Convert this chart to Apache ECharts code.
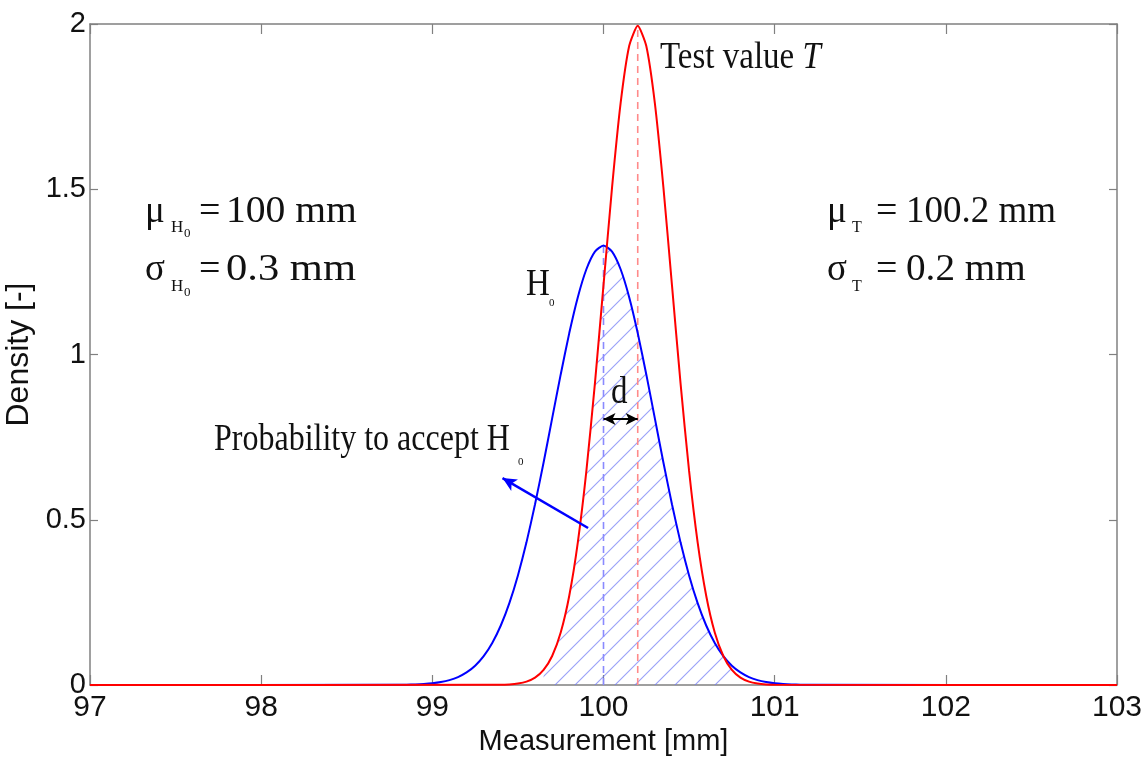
<!DOCTYPE html>
<html><head><meta charset="utf-8">
<script src="https://cdn.jsdelivr.net/npm/echarts@6/dist/echarts.min.js"></script>
<style>html,body{margin:0;padding:0;background:#fff}#c{width:1141px;height:763px}</style>
</head><body><div id="c"></div>
<script>
// H0 distribution (blue)
const xH0 = [97, 98.8, 98.85, 98.9, 98.95, 99.0, 99.05, 99.1, 99.15, 99.2, 99.25, 99.3, 99.35, 99.4, 99.45, 99.5, 99.55, 99.6, 99.65, 99.7, 99.75, 99.8, 99.85, 99.9, 99.95, 100.0, 100.05, 100.1, 100.15, 100.2, 100.25, 100.3, 100.35, 100.4, 100.45, 100.5, 100.55, 100.6, 100.65, 100.7, 100.75, 100.8, 100.85, 100.9, 100.95, 101.0, 101.05, 101.1, 101.15, 101.2, 103];
const yH0 = [0, 0.0004, 0.0009, 0.0016, 0.0029, 0.0051, 0.0088, 0.0148, 0.0240, 0.0380, 0.0584, 0.0874, 0.1272, 0.1800, 0.2476, 0.3316, 0.4316, 0.5467, 0.6733, 0.8066, 0.9397, 1.0648, 1.1735, 1.2580, 1.3115, 1.3298, 1.3115, 1.2580, 1.1735, 1.0648, 0.9397, 0.8066, 0.6733, 0.5467, 0.4316, 0.3316, 0.2476, 0.1800, 0.1272, 0.0874, 0.0584, 0.0380, 0.0240, 0.0148, 0.0088, 0.0051, 0.0029, 0.0016, 0.0009, 0.0004, 0];
// Test value distribution (red)
const xT = [97, 99.4, 99.45, 99.5, 99.55, 99.6, 99.65, 99.7, 99.75, 99.8, 99.85, 99.9, 99.95, 100.0, 100.05, 100.1, 100.15, 100.2, 100.25, 100.3, 100.35, 100.4, 100.45, 100.5, 100.55, 100.6, 100.65, 100.7, 100.75, 100.8, 100.85, 100.9, 100.95, 101.0, 103];
const yT = [0, 0.0007, 0.0018, 0.0044, 0.0102, 0.0222, 0.0455, 0.0877, 0.1587, 0.2700, 0.4315, 0.6476, 0.9132, 1.2099, 1.5057, 1.7603, 1.9333, 1.9947, 1.9333, 1.7603, 1.5057, 1.2099, 0.9132, 0.6476, 0.4315, 0.2700, 0.1587, 0.0877, 0.0455, 0.0222, 0.0102, 0.0044, 0.0018, 0.0007, 0];
// hatched overlap region
const xHatch = [99.65, 99.7, 99.75, 99.8, 99.85, 99.9, 99.95, 100.0, 100.02, 100.05, 100.1, 100.15, 100.2, 100.25, 100.3, 100.35, 100.4, 100.45, 100.5, 100.55, 100.6, 100.65, 100.7, 100.75];
const yHatch = [0.0455, 0.0877, 0.1587, 0.2700, 0.4315, 0.6476, 0.9132, 1.2099, 1.328, 1.3115, 1.2580, 1.1735, 1.0648, 0.9397, 0.8066, 0.6733, 0.5467, 0.4316, 0.3316, 0.2476, 0.1800, 0.1272, 0.0874, 0.0455];
// reference lines and arrows
const meanH0Line = [[100, 0], [100, 1.3298]];
const meanTLine = [[100.2, 0], [100.2, 1.9947]];
const dArrow = [[100, 0.805], [100.2, 0.805]];
const acceptArrow = [[99.91, 0.475], [99.41, 0.626]];

const zip = (xs, ys) => xs.map((x, i) => [x, ys[i]]);

function hatchCanvas() {
  const s = 20, c = document.createElement('canvas');
  c.width = s; c.height = s;
  const g = c.getContext('2d');
  g.strokeStyle = 'rgba(110,120,245,0.7)';
  g.lineWidth = 1.1;
  g.beginPath();
  g.moveTo(0, s); g.lineTo(s, 0);
  g.moveTo(-3, 3); g.lineTo(3, -3);
  g.moveTo(s - 3, s + 3); g.lineTo(s + 3, s - 3);
  g.stroke();
  return c;
}

const SERIF = 'Liberation Serif';
const SANS = 'Liberation Sans';
function txt(x, y, text, size, extra, align) {
  return Object.assign({ type: 'text', x: x, y: y, z: 100,
    style: { text: text, font: size + 'px "' + SERIF + '"', fill: '#111', verticalAlign: 'middle', align: align || 'left' } }, extra || {});
}

const axisCol = '#808080';
const baseAxis = {
  type: 'value', min: 97, max: 103, interval: 1,
  axisLine: { show: true, onZero: false, lineStyle: { color: axisCol, width: 1.5 } },
  axisTick: { show: true, inside: true, length: 10, lineStyle: { color: axisCol, width: 1.2 } },
  splitLine: { show: false }
};

const chart = echarts.init(document.getElementById('c'));
chart.setOption({
  animation: false,
  backgroundColor: '#fff',
  grid: { left: 90, right: 24, top: 24, bottom: 78, outerBoundsMode: 'none', containLabel: false },
  xAxis: [
    Object.assign({}, baseAxis, { position: 'bottom',
      axisLabel: { fontSize: 30, color: '#111', fontFamily: SANS, margin: 8 },
      name: 'Measurement [mm]', nameLocation: 'middle', nameGap: 42,
      nameTextStyle: { fontSize: 29, color: '#111', fontFamily: SANS } }),
    Object.assign({}, baseAxis, { position: 'top', axisLabel: { show: false } })
  ],
  yAxis: [
    Object.assign({}, baseAxis, { min: 0, max: 2, interval: 0.5, position: 'left',
      axisTick: { show: true, inside: true, length: 8, lineStyle: { color: axisCol, width: 1.2 } },
      axisLabel: { fontSize: 29, color: '#111', fontFamily: SANS, margin: 4 },
      name: 'Density [-]', nameLocation: 'middle', nameGap: 37,
      nameTextStyle: { fontSize: 32, color: '#111', fontFamily: SANS } }),
    Object.assign({}, baseAxis, { min: 0, max: 2, interval: 0.5, position: 'right',
      axisTick: { show: true, inside: true, length: 8, lineStyle: { color: axisCol, width: 1.2 } },
      axisLabel: { show: false } })
  ],
  series: [
    { type: 'line', data: zip(xHatch, yHatch), showSymbol: false, z: 1,
      lineStyle: { width: 0, opacity: 0 },
      areaStyle: { color: { image: hatchCanvas(), repeat: 'repeat' }, opacity: 1 } },
    { type: 'line', data: meanH0Line, showSymbol: false, z: 2,
      lineStyle: { color: '#8a8aff', width: 1.6, type: [7, 5] } },
    { type: 'line', data: meanTLine, showSymbol: false, z: 2,
      lineStyle: { color: '#ff8a8a', width: 1.6, type: [7, 5] } },
    { type: 'line', data: zip(xH0, yH0), showSymbol: false, smooth: 0.2, z: 3,
      lineStyle: { color: '#0000ff', width: 2 } },
    { type: 'line', data: zip(xT, yT), showSymbol: false, smooth: 0.2, z: 4,
      lineStyle: { color: '#ff0000', width: 2 } },
    { type: 'line', data: [], z: 5,
      markLine: { silent: true, animation: false, label: { show: false },
        data: [
          [{ coord: dArrow[0], symbol: 'arrow', symbolSize: [9, 12], lineStyle: { color: '#000', width: 2, type: 'solid' } },
           { coord: dArrow[1], symbol: 'arrow', symbolSize: [9, 12] }],
          [{ coord: acceptArrow[0], symbol: 'none', lineStyle: { color: '#0000ff', width: 2.5, type: 'solid' } },
           { coord: acceptArrow[1], symbol: 'arrow', symbolSize: [10, 14] }]
        ] } }
  ],
  graphic: [
    { type: 'text', x: 660, y: 58, scaleY: 1.18, z: 100,
      style: { text: '{n|Test value }{i|T}', verticalAlign: 'middle', align: 'left',
        rich: { n: { fontFamily: SERIF, fontSize: 33, fill: '#111' }, i: { fontFamily: SERIF, fontSize: 33, fontStyle: 'italic', fill: '#111' } } } },
    txt(526, 285, 'H', 33, { scaleY: 1.15 }),
    txt(549, 303, '0', 11),
    txt(611, 393, 'd', 33, { scaleY: 1.15 }),
    txt(214, 440, 'Probability to accept H', 32, { scaleY: 1.18 }),
    txt(518, 462, '0', 11),
    // left block
    txt(145, 212, 'μ', 37),
    txt(171, 228, 'H', 17),
    txt(184, 234, '0', 13),
    txt(199, 212, '=', 38),
    txt(226, 212, '100 mm', 37, { scaleX: 1.07 }),
    txt(145, 270, 'σ', 37),
    txt(171, 287, 'H', 17),
    txt(184, 293, '0', 13),
    txt(199, 270, '=', 38),
    txt(226, 270, '0.3 mm', 37, { scaleX: 1.15 }),
    // right block
    txt(827, 212, 'μ', 37),
    txt(852, 228, 'T', 16),
    txt(876, 212, '=', 38),
    txt(906, 212, '100.2 mm', 37),
    txt(827, 270, 'σ', 37),
    txt(852, 287, 'T', 16),
    txt(876, 270, '=', 38),
    txt(906, 270, '0.2 mm', 37, { scaleX: 1.06 })
  ]
});
</script>
</body></html>
